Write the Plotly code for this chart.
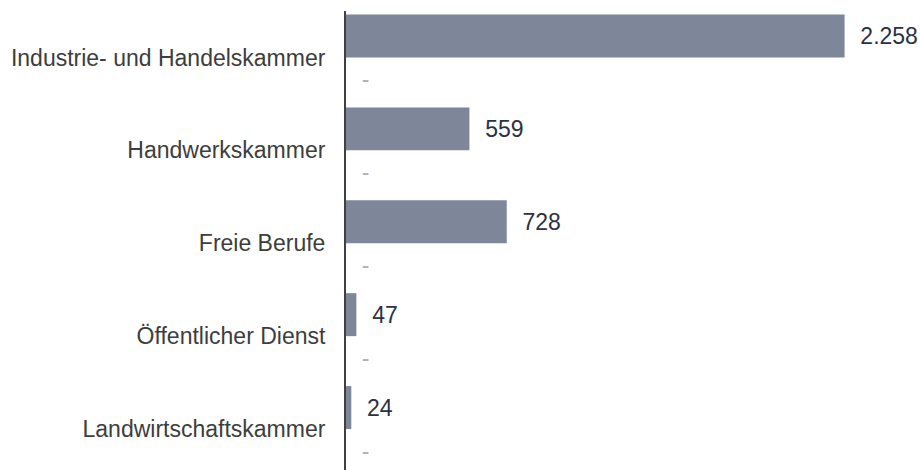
import plotly.graph_objects as go

categories = ["Industrie- und Handelskammer", "Handwerkskammer", "Freie Berufe",
              "Öffentlicher Dienst", "Landwirtschaftskammer"]
values = [2258, 559, 728, 47, 24]
values_b = [0, 0, 0, 0, 0]
labels_b = ["-", "-", "-", "-", "-"]

def fmt(v):
    return f"{v:,}".replace(",", ".")

PAD = "\u00a0\u00a0"
FONT = "Liberation Sans, Arial, sans-serif"

fig = go.Figure()
fig.add_trace(go.Bar(
    y=categories, x=values, orientation="h",
    marker=dict(color="#7e8699", line=dict(width=0)),
    text=[PAD + fmt(v) for v in values], textposition="outside",
    textfont=dict(family=FONT, size=23, color="#2c3145"),
    cliponaxis=False, hoverinfo="skip", showlegend=False,
))
fig.add_trace(go.Bar(
    y=categories, x=values_b, orientation="h",
    marker=dict(color="#b5b8bf", line=dict(width=0)),
    text=[PAD + t for t in labels_b], textposition="outside",
    textfont=dict(family=FONT, size=23, color="#b0b3b8"),
    cliponaxis=False, hoverinfo="skip", showlegend=False,
))

n = len(categories)
fig.update_layout(
    width=920, height=470,
    margin=dict(l=346, r=20, t=10.5, b=0, autoexpand=False),
    barmode="group", bargap=0.075, bargroupgap=0,
    plot_bgcolor="white", paper_bgcolor="white",
    font=dict(family=FONT),
    uniformtext=dict(minsize=1, mode=False),
)
fig.update_xaxes(range=[0, 2509], visible=False, showgrid=False, zeroline=False,
                 automargin=False)
fig.update_yaxes(
    type="category", range=[n - 0.5 - 5.5 / 93, -0.5],
    showline=True, linecolor="#404040", linewidth=2,
    showgrid=False, zeroline=False, ticks="", automargin=False,
    ticklabelstandoff=14,
    tickfont=dict(family=FONT, size=23, color="#3d3d3d"),
)
fig.write_html(
    "out.html",
    config={"displayModeBar": False},
    post_script="document.body.style.margin='0';document.body.style.overflow='hidden';",
)
